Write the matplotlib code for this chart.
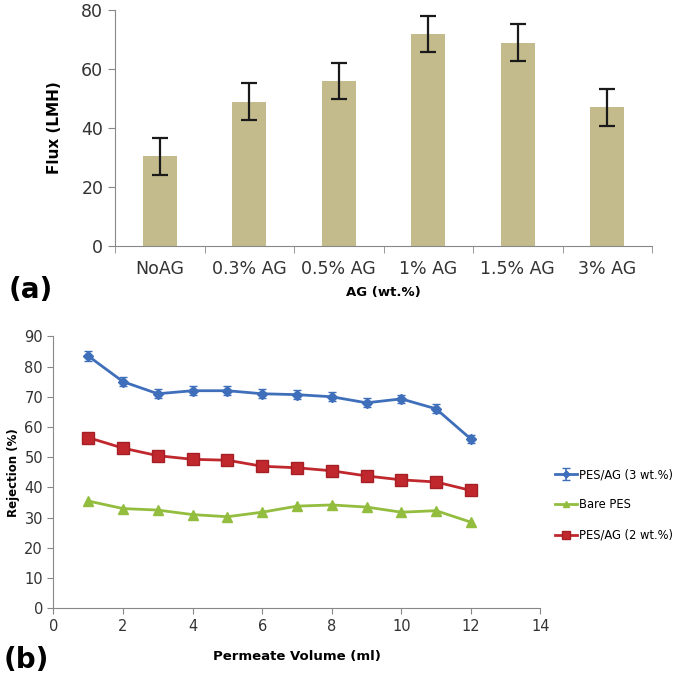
import numpy as np
import matplotlib
matplotlib.use("Agg")
import matplotlib.pyplot as plt

# (a) flux data
ag_labels = ["NoAG", "0.3% AG", "0.5% AG", "1% AG", "1.5% AG", "3% AG"]
flux = [30.5, 49, 56, 72, 69, 47]
flux_err = [6.3, 6.2, 6.1, 6.2, 6.3, 6.2]

# (b) rejection data
volume = [1, 2, 3, 4, 5, 6, 7, 8, 9, 10, 11, 12]
rej_ag3 = [83.5, 75, 71, 72, 72, 71, 70.7, 70, 68, 69.3, 66, 56]
rej_ag3_err = [1.5, 1.5, 1.5, 1.4, 1.5, 1.5, 1.4, 1.5, 1.5, 1.4, 1.5, 1.4]
rej_bare = [35.5, 33, 32.5, 31, 30.3, 31.8, 33.8, 34.2, 33.5, 31.8, 32.3, 28.5]
rej_ag2 = [56.5, 53, 50.5, 49.3, 49, 47, 46.5, 45.5, 43.8, 42.5, 41.8, 39]

fig = plt.figure(figsize=(6.85, 6.85), dpi=100)

# ---- panel (a)
ax1 = fig.add_axes([0.168, 0.641, 0.784, 0.344])
x = np.arange(len(ag_labels))
ax1.bar(x, flux, width=0.38, color="#c4bb8d", zorder=2)
ax1.errorbar(x, flux, yerr=flux_err, fmt="none", ecolor="#1a1a1a",
             elinewidth=1.6, capsize=6, capthick=1.6, zorder=3)
ax1.set_xlim(-0.5, len(ag_labels) - 0.5)
ax1.set_ylim(0, 80)
ax1.set_yticks([0, 20, 40, 60, 80])
ax1.set_xticks(x)
ax1.set_xticklabels(ag_labels)
ax1.set_xticks(np.arange(-0.5, len(ag_labels)), minor=True)
ax1.tick_params(axis="x", which="major", length=0, pad=10, labelsize=12.5, colors="#333333")
ax1.tick_params(axis="x", which="minor", length=5, color="#888888")
ax1.tick_params(axis="y", length=5, color="#888888", labelsize=12.5, labelcolor="#333333")
for s in ["top", "right"]:
    ax1.spines[s].set_visible(False)
for s in ["left", "bottom"]:
    ax1.spines[s].set_color("#888888")
ax1.set_ylabel("Flux (LMH)", fontsize=11, fontweight="bold", labelpad=14)
ax1.set_xlabel("AG (wt.%)", fontsize=9.5, fontweight="bold", labelpad=6)
fig.text(0.012, 0.565, "(a)", fontsize=20, fontweight="bold")

# ---- panel (b)
ax2 = fig.add_axes([0.078, 0.112, 0.711, 0.397])
l3 = ax2.errorbar(volume, rej_ag3, yerr=rej_ag3_err, color="#3f6fba", marker="D",
                  markersize=5, linewidth=2, elinewidth=1.2, capsize=3,
                  label="PES/AG (3 wt.%)", zorder=3)
lb, = ax2.plot(volume, rej_bare, color="#93bd3e", marker="^", markersize=7,
               linewidth=2, label="Bare PES", zorder=3)
l2, = ax2.plot(volume, rej_ag2, color="#c0282e", marker="s", markersize=9,
               markeredgecolor="#a52025", linewidth=2, label="PES/AG (2 wt.%)", zorder=3)
ax2.set_xlim(0, 14)
ax2.set_ylim(0, 90)
ax2.set_xticks(range(0, 15, 2))
ax2.set_yticks(range(0, 91, 10))
ax2.tick_params(length=4, color="#888888", labelsize=10.5, labelcolor="#333333")
for s in ["top", "right"]:
    ax2.spines[s].set_visible(False)
for s in ["left", "bottom"]:
    ax2.spines[s].set_color("#888888")
ax2.set_ylabel("Rejection (%)", fontsize=8.5, fontweight="bold", labelpad=3)
ax2.set_xlabel("Permeate Volume (ml)", fontsize=9.5, fontweight="bold", labelpad=12)
ax2.legend([l3, lb, l2], ["PES/AG (3 wt.%)", "Bare PES", "PES/AG (2 wt.%)"],
           loc="center left", bbox_to_anchor=(1.03, 0.38), frameon=False,
           borderaxespad=0, borderpad=0, prop={"size": 8.3},
           handlelength=1.9, handletextpad=0.2, labelspacing=1.5, markerscale=0.7)
fig.text(0.005, 0.025, "(b)", fontsize=20, fontweight="bold")

fig.savefig("out.png", dpi=100)
